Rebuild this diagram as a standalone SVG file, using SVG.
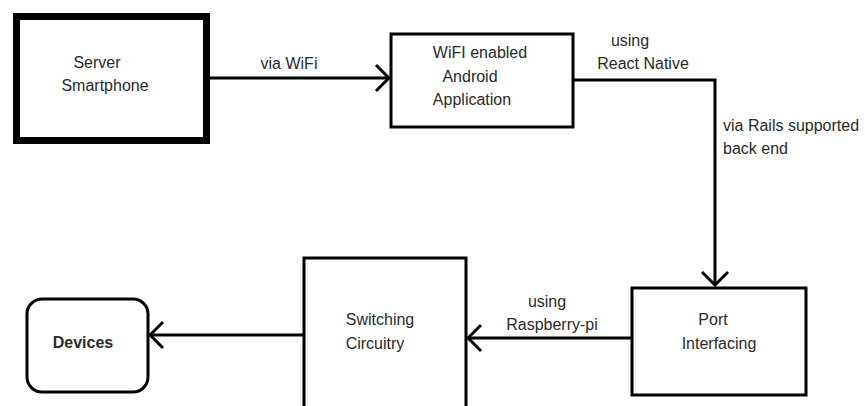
<svg xmlns="http://www.w3.org/2000/svg" width="865" height="406" viewBox="0 0 865 406">
<style>
text{font-family:"Liberation Sans",Arial,sans-serif;font-size:16px;fill:#2a2a2a;text-anchor:middle}
.box{fill:#fff;stroke:#000;stroke-width:3}
.ln{fill:none;stroke:#000;stroke-width:3}
.lbl{text-anchor:start}
</style>
<defs>
<marker id="ah" viewBox="0 0 18 30" refX="16" refY="15" markerWidth="18" markerHeight="30" markerUnits="userSpaceOnUse" orient="auto">
<path d="M3,2 L16,15 L3,28" fill="none" stroke="#000" stroke-width="3"/>
</marker>
</defs>
<g id="server">
<rect x="16.5" y="16.5" width="190" height="124" fill="#fff" stroke="#000" stroke-width="7"/>
<text x="97" y="68">Server</text>
<text x="105" y="91">Smartphone</text>
</g>
<g id="wifi-app">
<rect class="box" x="391" y="34" width="182" height="93"/>
<text x="480" y="58">WiFI enabled</text>
<text x="470" y="82">Android</text>
<text x="472" y="105">Application</text>
</g>
<g id="port">
<rect class="box" x="632" y="288" width="174" height="107"/>
<text x="713" y="325">Port</text>
<text x="719" y="349">Interfacing</text>
</g>
<g id="switching">
<path class="box" d="M304,410 V258 H466 V410"/>
<text x="380" y="325">Switching</text>
<text x="375" y="349">Circuitry</text>
</g>
<g id="devices">
<rect class="box" x="27" y="299" width="121" height="93" rx="15" ry="15"/>
<text x="83" y="348" font-weight="bold">Devices</text>
</g>
<g id="connectors">
<line class="ln" x1="210" y1="78" x2="389" y2="78" marker-end="url(#ah)"/>
<polyline class="ln" points="573,80 715,80 715,285" marker-end="url(#ah)"/>
<line class="ln" x1="632" y1="338" x2="468" y2="338" marker-end="url(#ah)"/>
<line class="ln" x1="304" y1="335" x2="150" y2="335" marker-end="url(#ah)"/>
<text x="289" y="69">via WiFi</text>
<text x="630" y="46">using</text>
<text x="643" y="69">React Native</text>
<text class="lbl" x="723" y="131">via Rails supported</text>
<text class="lbl" x="723" y="154">back end</text>
<text x="547" y="307">using</text>
<text x="552" y="330">Raspberry-pi</text>
</g>
</svg>
